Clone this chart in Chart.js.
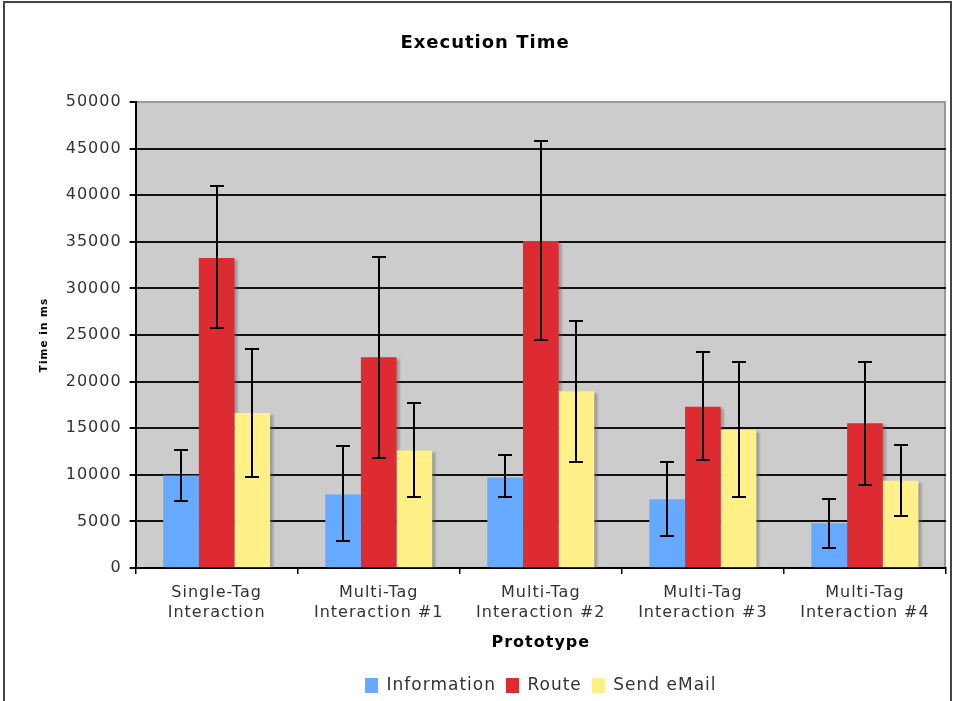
<!DOCTYPE html>
<html>
<head>
<meta charset="utf-8">
<script src="https://cdn.jsdelivr.net/npm/chart.js@4.4.1/dist/chart.umd.min.js"></script>
<style>
html, body { margin: 0; padding: 0; background: #ffffff; }
#wrap { position: relative; width: 954px; height: 701px; overflow: hidden; }
#c { position: absolute; left: 0; top: 0; }
#frame { position: absolute; left: 3px; top: 1px; width: 949px; height: 720px; border: 2px solid #444; border-bottom: none; box-sizing: border-box; pointer-events: none; }
</style>
</head>
<body>
<div id="wrap">
  <canvas id="c" width="954" height="701"></canvas>
  <div id="frame"></div>
</div>
<script>
// ---- data ----
const categories = [
  ['Single-Tag', 'Interaction'],
  ['Multi-Tag', 'Interaction #1'],
  ['Multi-Tag', 'Interaction #2'],
  ['Multi-Tag', 'Interaction #3'],
  ['Multi-Tag', 'Interaction #4']
];
const seriesNames = ['Information', 'Route', 'Send eMail'];

const information     = [9920, 7880, 9710, 7380, 4800];
const informationLow  = [7240, 2870, 7600, 3440, 2190];
const informationHigh = [12650, 13040, 12150, 11400, 7420];

const route     = [33260, 22610, 35090, 17310, 15520];
const routeLow  = [25700, 11750, 24480, 11580, 8890];
const routeHigh = [40940, 33330, 45810, 23190, 22080];

const sendEmail     = [16630, 12620, 18960, 14800, 9350];
const sendEmailLow  = [9750, 7600, 11400, 7600, 5590];
const sendEmailHigh = [23550, 17740, 26450, 22080, 13190];

const yMin = 0, yMax = 50000, yStep = 5000;

// ---- plugins ----
const spacing = {
  id: 'spacing',
  beforeInit(c) { c.ctx.letterSpacing = '1px'; },
  beforeUpdate(c) { c.ctx.letterSpacing = '1px'; },
  beforeLayout(c) { c.ctx.letterSpacing = '1px'; },
  beforeDraw(c) { c.ctx.letterSpacing = '1px'; }
};

const plotBg = {
  id: 'plotBg',
  beforeDraw(chart) {
    const { ctx, chartArea: { left, top, right, bottom } } = chart;
    ctx.save();
    ctx.fillStyle = '#cccccc';
    ctx.fillRect(left, top, right - left, bottom - top);
    ctx.strokeStyle = '#999999';
    ctx.lineWidth = 2;
    ctx.beginPath();
    ctx.moveTo(right - 1, top);
    ctx.lineTo(right - 1, bottom);
    ctx.stroke();
    ctx.restore();
  }
};

// soft shadows behind every bar, drawn before any bar so neighbours cover them
const barShadow = {
  id: 'barShadow',
  beforeDatasetsDraw(chart) {
    const { ctx, chartArea: { left, top, right, bottom } } = chart;
    ctx.save();
    ctx.beginPath();
    ctx.rect(left, top, right - left, bottom - top);
    ctx.clip();
    ctx.filter = 'blur(1px)';
    ctx.fillStyle = 'rgba(90,90,90,0.45)';
    chart.data.datasets.forEach((ds, i) => {
      chart.getDatasetMeta(i).data.forEach((bar) => {
        const p = bar.getProps(['x', 'y', 'base', 'width'], true);
        ctx.fillRect(p.x - p.width / 2 + 3, p.y + 2, p.width, p.base - p.y);
      });
    });
    ctx.restore();
  }
};

const errorBars = {
  id: 'errorBars',
  afterDatasetsDraw(chart) {
    const ctx = chart.ctx;
    const y = chart.scales.y;
    ctx.save();
    ctx.strokeStyle = '#000000';
    ctx.lineWidth = 2;
    chart.data.datasets.forEach((ds, i) => {
      const meta = chart.getDatasetMeta(i);
      meta.data.forEach((bar, j) => {
        const x = Math.round(bar.x);
        const yh = Math.round(y.getPixelForValue(ds.errHigh[j]));
        const yl = Math.round(y.getPixelForValue(ds.errLow[j]));
        ctx.beginPath();
        ctx.moveTo(x, yh); ctx.lineTo(x, yl);
        ctx.moveTo(x - 7, yh); ctx.lineTo(x + 7, yh);
        ctx.moveTo(x - 7, yl); ctx.lineTo(x + 7, yl);
        ctx.stroke();
      });
    });
    ctx.restore();
  }
};

Chart.defaults.font.family = '"DejaVu Sans", Verdana, sans-serif';
Chart.defaults.color = '#333333';

new Chart(document.getElementById('c'), {
  type: 'bar',
  data: {
    labels: categories,
    datasets: [
      { label: seriesNames[0], data: information, errLow: informationLow, errHigh: informationHigh,
        backgroundColor: '#66aaff', borderWidth: 0 },
      { label: seriesNames[1], data: route, errLow: routeLow, errHigh: routeHigh,
        backgroundColor: '#dd2b31', borderWidth: 0 },
      { label: seriesNames[2], data: sendEmail, errLow: sendEmailLow, errHigh: sendEmailHigh,
        backgroundColor: '#fff088', borderWidth: 0 }
    ]
  },
  options: {
    responsive: false,
    animation: false,
    devicePixelRatio: 1,
    layout: { padding: { left: 24, right: 8, top: 0, bottom: -3 } },
    datasets: { bar: { categoryPercentage: 0.66, barPercentage: 1.0 } },
    plugins: {
      tooltip: { enabled: false },
      title: {
        display: true,
        text: 'Execution Time',
        color: '#000000',
        font: { size: 18, weight: 'bold', lineHeight: 1.2 },
        padding: { top: 33, bottom: 47.4 }
      },
      legend: {
        position: 'bottom',
        fullSize: false,
        labels: {
          boxWidth: 13,
          boxHeight: 15,
          padding: 10,
          color: '#333333',
          font: { size: 17 }
        }
      }
    },
    scales: {
      x: {
        grid: { display: true, drawOnChartArea: false, drawTicks: true, tickLength: 6, color: '#000000', lineWidth: 1.5, offset: true },
        border: { color: '#000000', width: 2 },
        ticks: { font: { size: 16, lineHeight: 1.3 }, padding: 8, maxRotation: 0, autoSkip: false, color: '#333333' },
        title: { display: true, text: 'Prototype', color: '#000000', font: { size: 16, weight: 'bold', lineHeight: 1.2 }, padding: { top: 1.8, bottom: 14.4 } }
      },
      y: {
        min: yMin,
        max: yMax,
        grid: {
          color: (ctx) => (ctx.tick && ctx.tick.value === yMax ? '#999999' : '#111111'),
          tickColor: '#000000',
          lineWidth: 2,
          tickLength: 6
        },
        border: { color: '#000000', width: 2 },
        ticks: { stepSize: yStep, font: { size: 16 }, padding: 8, color: '#333333', callback: (v) => String(v) },
        title: { display: true, text: 'Time in ms', color: '#000000', font: { size: 10.5, weight: 'bold', lineHeight: 1.2 }, padding: { top: 13.7, bottom: 7.4 } }
      }
    }
  },
  plugins: [spacing, plotBg, barShadow, errorBars]
});
</script>
</body>
</html>
